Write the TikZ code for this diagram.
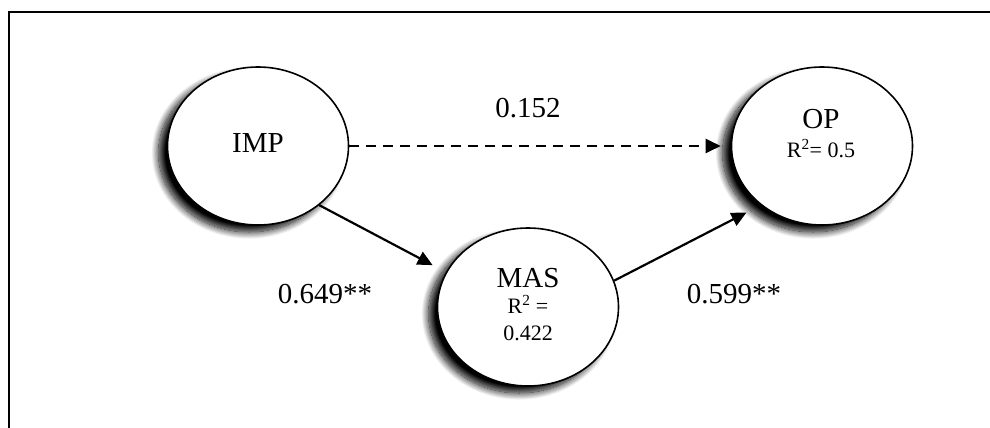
\documentclass[tikz,border=0pt]{standalone}
\usepackage{fontspec}
\setmainfont{Liberation Serif}
\usetikzlibrary{arrows.meta,shapes.geometric,shadows.blur}
\begin{document}
\begin{tikzpicture}[x=1pt,y=-1pt,
  latent/.style={draw, line width=1.6pt, ellipse, fill=white,
    minimum width=181pt, minimum height=158pt, inner sep=0pt,
    blur shadow={shadow xshift=-9pt, shadow yshift=-7pt,
      shadow blur radius=7pt, shadow blur steps=16, shadow opacity=100}},
  big/.style={font=\fontsize{29}{33}\selectfont, inner sep=0pt, anchor=base},
  small/.style={font=\fontsize{22}{26}\selectfont, inner sep=0pt, anchor=base},
  conn/.style={line width=2.2pt, -{Triangle[length=15pt,width=14pt]}},
  frameline/.style={line width=2pt, line cap=rect}]
\useasboundingbox (0,0) rectangle (990,428);
% frame (top and left edges only visible)
\coordinate (fbl) at (9,429);
\coordinate (ftl) at (9,12);
\coordinate (ftr) at (991,12);
\draw[frameline] (fbl) -- (ftl) -- (ftr);
% latent variables
\node[latent] (imp) at (258,146) {};
\node[latent] (op)  at (822,146) {};
\node[latent] (mas) at (528,307) {};
% texts in ellipses
\node[big] (impt) at (258,152) {IMP};
\node[big] (opt) at (821,128) {OP};
\node[small] (opr) at (821,157) {R\textsuperscript{2}= 0.5};
\node[big] (mast) at (528,287) {MAS};
\node[small] (masr) at (528,313) {R\textsuperscript{2} =};
\node[small] (masv) at (528,340) {0.422};
% paths
\draw[conn, dash pattern=on 10pt off 7pt, shorten >=10pt] (imp.east) -- (op.west);
\draw[conn, shorten >=15pt] (imp.-44) -- (mas.157);
\draw[conn, shorten >=16pt] (mas.17) -- (op.224);
% coefficients
\node[big] (c1) at (528,117) {0.152};
\node[big] (c2) at (325,303) {0.649**};
\node[big] (c3) at (734,303) {0.599**};
\end{tikzpicture}
\end{document}
